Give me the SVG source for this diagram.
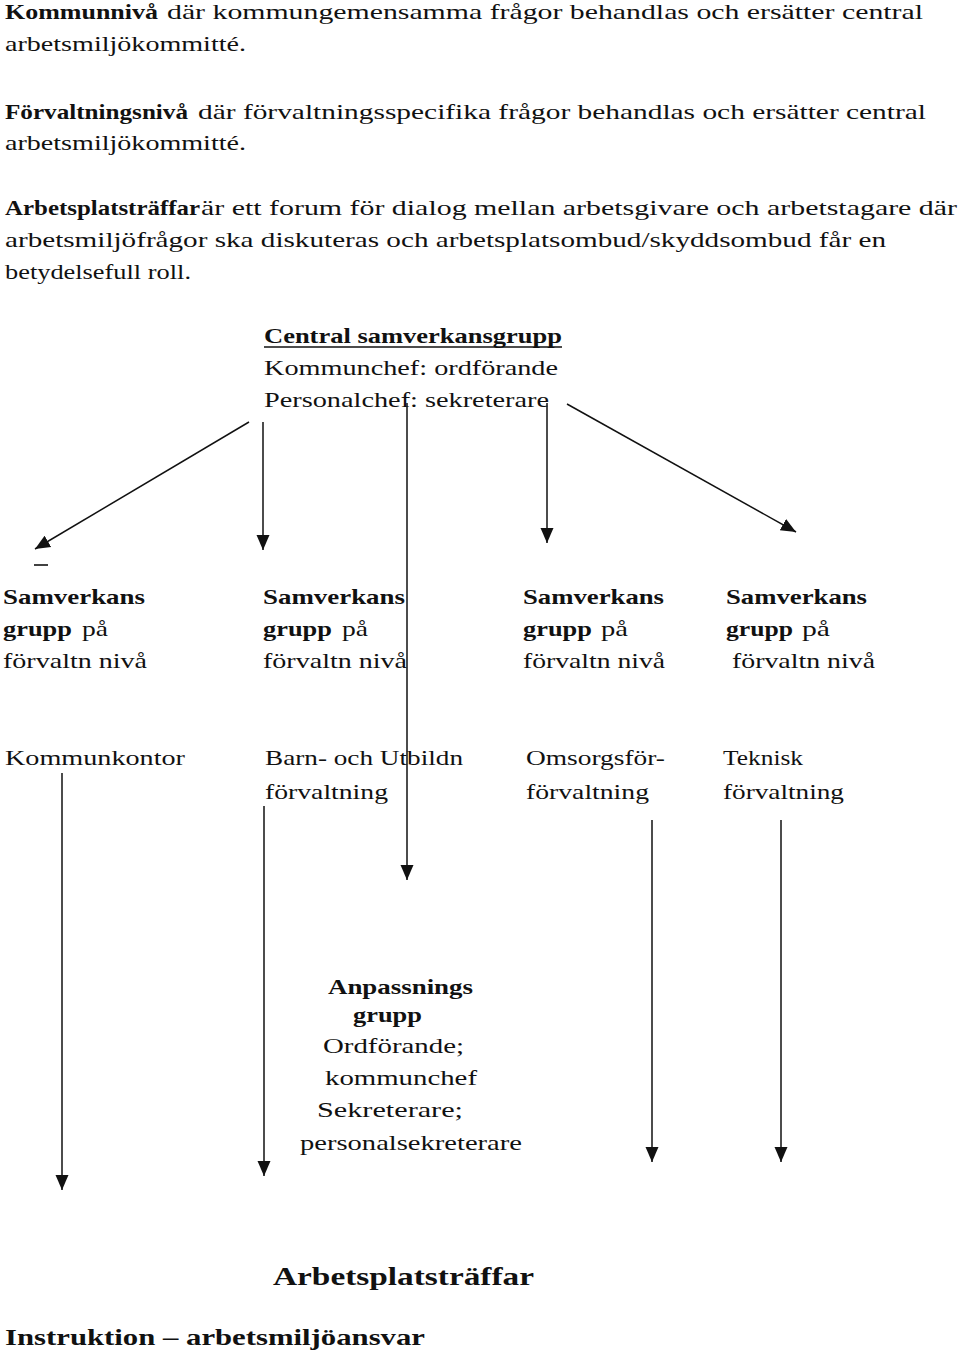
<svg xmlns="http://www.w3.org/2000/svg" width="960" height="1354" viewBox="0 0 960 1354">
<style>
text{font-family:"Liberation Serif","Times New Roman",serif;font-size:22px;fill:#111}
.b{font-weight:bold}
.c{stroke:#111;stroke-width:1.5;fill:none}
</style>
<defs>
<marker id="ah" markerUnits="userSpaceOnUse" markerWidth="16" markerHeight="16" viewBox="0 0 16 16" refX="15" refY="8" orient="auto">
<path d="M0,1.5 L15,8 L0,14.5 Z" fill="#111"/>
</marker>
</defs>
<rect width="960" height="1354" fill="#fff"/>

<g id="intro">
<text class="b" x="5" y="19" textLength="153" lengthAdjust="spacingAndGlyphs">Kommunnivå</text>
<text x="167" y="19" textLength="756" lengthAdjust="spacingAndGlyphs">där kommungemensamma frågor behandlas och ersätter central</text>
<text x="5" y="51" textLength="241" lengthAdjust="spacingAndGlyphs">arbetsmiljökommitté.</text>
<text class="b" x="5" y="119" textLength="183" lengthAdjust="spacingAndGlyphs">Förvaltningsnivå</text>
<text x="198" y="119" textLength="728" lengthAdjust="spacingAndGlyphs">där förvaltningsspecifika frågor behandlas och ersätter central</text>
<text x="5" y="150" textLength="241" lengthAdjust="spacingAndGlyphs">arbetsmiljökommitté.</text>
<text class="b" x="5" y="215" textLength="195" lengthAdjust="spacingAndGlyphs">Arbetsplatsträffar</text>
<text x="201" y="215" textLength="756" lengthAdjust="spacingAndGlyphs">är ett forum för dialog mellan arbetsgivare och arbetstagare där</text>
<text x="5" y="247" textLength="881" lengthAdjust="spacingAndGlyphs">arbetsmiljöfrågor ska diskuteras och arbetsplatsombud/skyddsombud får en</text>
<text x="5" y="279" textLength="186" lengthAdjust="spacingAndGlyphs">betydelsefull roll.</text>
</g>

<g id="central">
<text class="b" x="264" y="343" textLength="298" lengthAdjust="spacingAndGlyphs">Central samverkansgrupp</text>
<line x1="264" y1="347" x2="562" y2="347" stroke="#111" stroke-width="1.3"/>
<text x="264" y="375" textLength="294" lengthAdjust="spacingAndGlyphs">Kommunchef: ordförande</text>
<text x="264" y="407" textLength="285" lengthAdjust="spacingAndGlyphs">Personalchef: sekreterare</text>
</g>

<g id="connectors">
<line class="c" x1="249" y1="422" x2="35" y2="549" marker-end="url(#ah)"/>
<line class="c" x1="263" y1="422" x2="263" y2="550" marker-end="url(#ah)"/>
<line class="c" x1="407" y1="403" x2="407" y2="880" marker-end="url(#ah)"/>
<line class="c" x1="547" y1="403" x2="547" y2="543" marker-end="url(#ah)"/>
<line class="c" x1="567" y1="404" x2="796" y2="532" marker-end="url(#ah)"/>
<line class="c" x1="62" y1="773" x2="62" y2="1190" marker-end="url(#ah)"/>
<line class="c" x1="264" y1="806" x2="264" y2="1176" marker-end="url(#ah)"/>
<line class="c" x1="652" y1="820" x2="652" y2="1162" marker-end="url(#ah)"/>
<line class="c" x1="781" y1="820" x2="781" y2="1162" marker-end="url(#ah)"/>
</g>

<g id="samverkan1">
<line x1="34" y1="565" x2="48" y2="565" stroke="#111" stroke-width="1.6"/>
<text class="b" x="3" y="604" textLength="142" lengthAdjust="spacingAndGlyphs">Samverkans</text>
<text class="b" x="3" y="636" textLength="69" lengthAdjust="spacingAndGlyphs">grupp</text>
<text x="82" y="636" textLength="26" lengthAdjust="spacingAndGlyphs">på</text>
<text x="3" y="668" textLength="144" lengthAdjust="spacingAndGlyphs">förvaltn nivå</text>
</g>
<g id="samverkan2">
<text class="b" x="263" y="604" textLength="142" lengthAdjust="spacingAndGlyphs">Samverkans</text>
<text class="b" x="263" y="636" textLength="69" lengthAdjust="spacingAndGlyphs">grupp</text>
<text x="342" y="636" textLength="26" lengthAdjust="spacingAndGlyphs">på</text>
<text x="263" y="668" textLength="144" lengthAdjust="spacingAndGlyphs">förvaltn nivå</text>
</g>
<g id="samverkan3">
<text class="b" x="523" y="604" textLength="141" lengthAdjust="spacingAndGlyphs">Samverkans</text>
<text class="b" x="523" y="636" textLength="69" lengthAdjust="spacingAndGlyphs">grupp</text>
<text x="601" y="636" textLength="27" lengthAdjust="spacingAndGlyphs">på</text>
<text x="523" y="668" textLength="142" lengthAdjust="spacingAndGlyphs">förvaltn nivå</text>
</g>
<g id="samverkan4">
<text class="b" x="726" y="604" textLength="141" lengthAdjust="spacingAndGlyphs">Samverkans</text>
<text class="b" x="726" y="636" textLength="67" lengthAdjust="spacingAndGlyphs">grupp</text>
<text x="802" y="636" textLength="28" lengthAdjust="spacingAndGlyphs">på</text>
<text x="732" y="668" textLength="143" lengthAdjust="spacingAndGlyphs">förvaltn nivå</text>
</g>

<g id="kommunkontor">
<text x="5" y="765" textLength="180" lengthAdjust="spacingAndGlyphs">Kommunkontor</text>
</g>
<g id="barnutbildning">
<text x="265" y="765" textLength="198" lengthAdjust="spacingAndGlyphs">Barn- och Utbildn</text>
<text x="265" y="799" textLength="123" lengthAdjust="spacingAndGlyphs">förvaltning</text>
</g>
<g id="omsorg">
<text x="526" y="765" textLength="139" lengthAdjust="spacingAndGlyphs">Omsorgsför-</text>
<text x="526" y="799" textLength="123" lengthAdjust="spacingAndGlyphs">förvaltning</text>
</g>
<g id="teknisk">
<text x="723" y="765" textLength="80" lengthAdjust="spacingAndGlyphs">Teknisk</text>
<text x="723" y="799" textLength="121" lengthAdjust="spacingAndGlyphs">förvaltning</text>
</g>

<g id="anpassning">
<text class="b" x="328" y="994" textLength="145" lengthAdjust="spacingAndGlyphs">Anpassnings</text>
<text class="b" x="353" y="1022" textLength="69" lengthAdjust="spacingAndGlyphs">grupp</text>
<text x="323" y="1053" textLength="141" lengthAdjust="spacingAndGlyphs">Ordförande;</text>
<text x="325" y="1085" textLength="152" lengthAdjust="spacingAndGlyphs">kommunchef</text>
<text x="317" y="1117" textLength="146" lengthAdjust="spacingAndGlyphs">Sekreterare;</text>
<text x="300" y="1150" textLength="222" lengthAdjust="spacingAndGlyphs">personalsekreterare</text>
</g>

<g id="footer">
<text class="b" x="273" y="1285" style="font-size:26px" textLength="261" lengthAdjust="spacingAndGlyphs">Arbetsplatsträffar</text>
<text class="b" x="5" y="1345" style="font-size:24px" textLength="420" lengthAdjust="spacingAndGlyphs">Instruktion – arbetsmiljöansvar</text>
</g>
</svg>
